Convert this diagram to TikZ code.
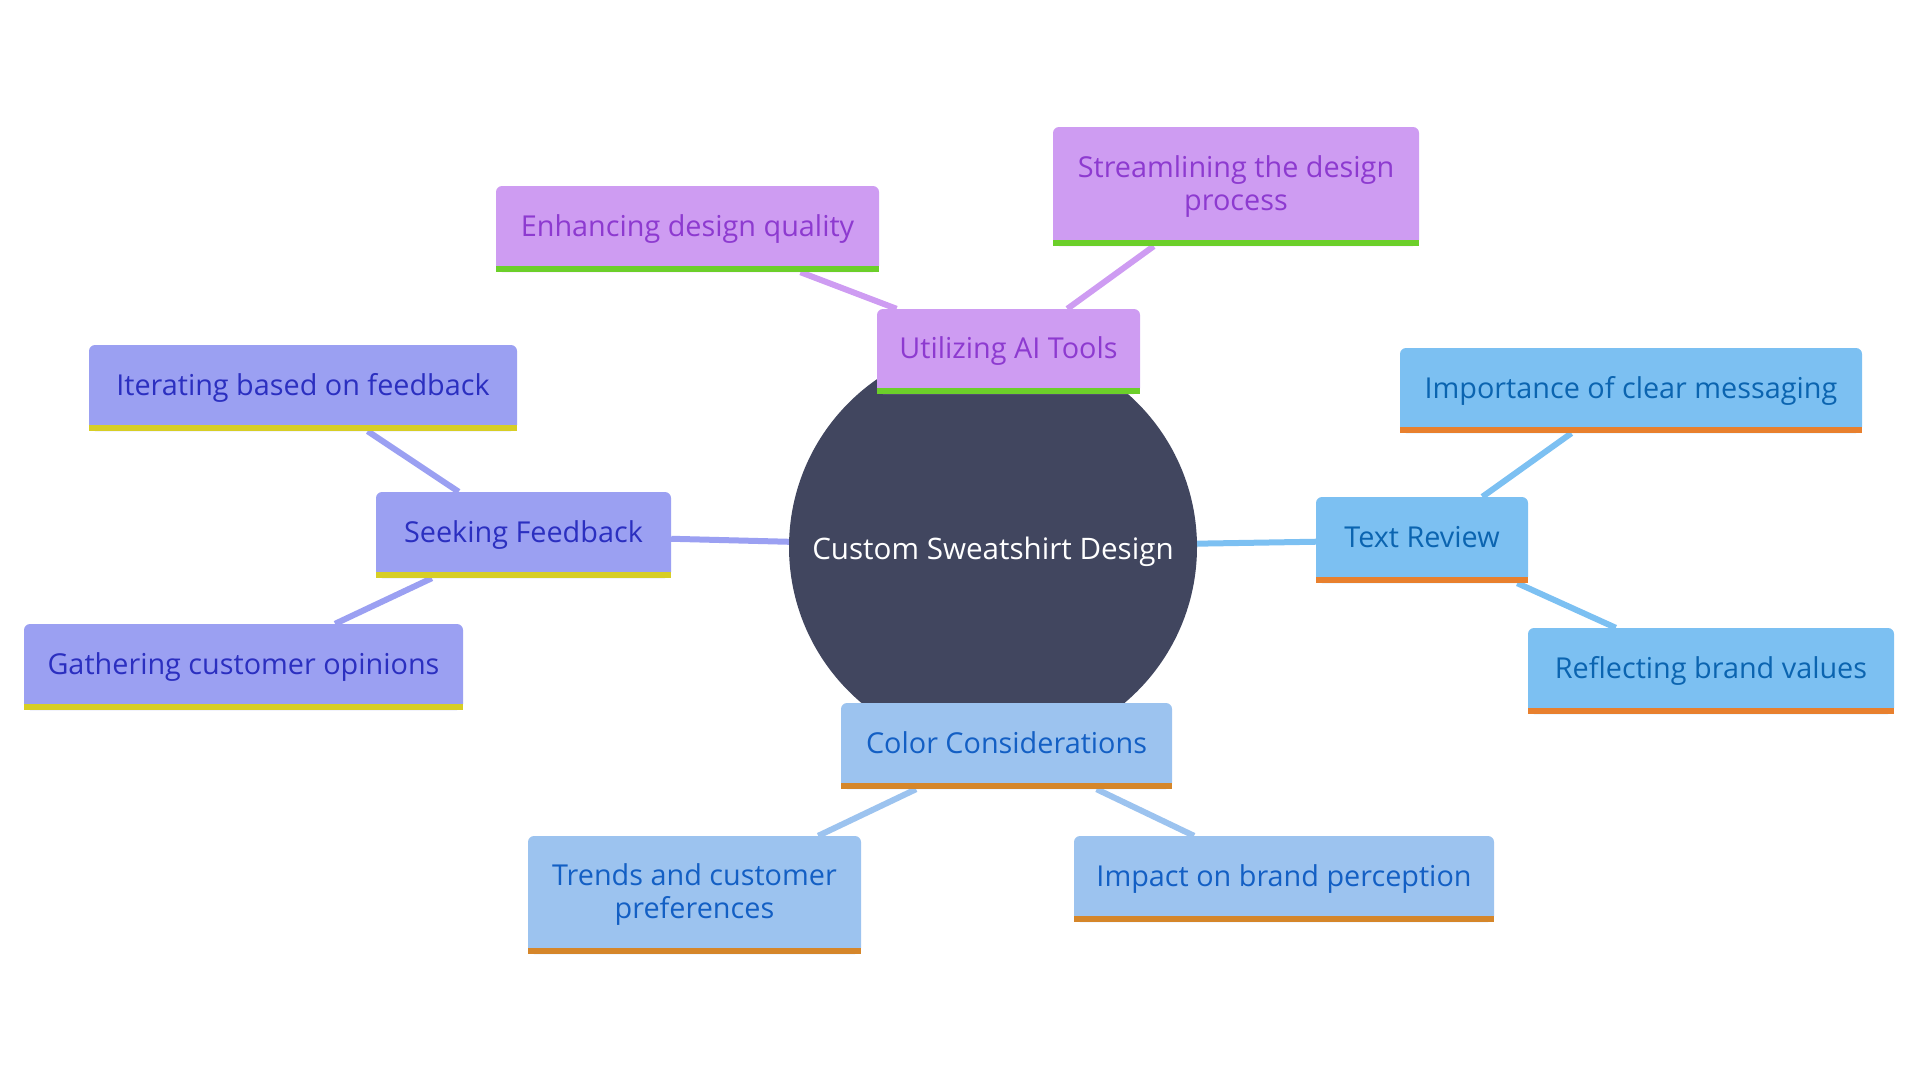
\documentclass[tikz,border=0pt]{standalone}
\usepackage{fontspec}
\setmainfont{Open Sans}
\usetikzlibrary{backgrounds}
\definecolor{hubF}{HTML}{41465F}
\definecolor{aiF}{HTML}{CE9CF2}
\definecolor{aiT}{HTML}{8D3AD0}
\definecolor{aiB}{HTML}{6CCF2A}
\definecolor{fbF}{HTML}{9BA0F2}
\definecolor{fbT}{HTML}{2B2FC0}
\definecolor{fbB}{HTML}{D7CE25}
\definecolor{trF}{HTML}{7CC0F2}
\definecolor{trT}{HTML}{0B64B0}
\definecolor{trB}{HTML}{E8802E}
\definecolor{ccF}{HTML}{9CC3EF}
\definecolor{ccT}{HTML}{135FC4}
\definecolor{ccB}{HTML}{D5862A}
\tikzset{
  box/.style={rounded corners=6pt, align=center, inner sep=0pt,
    font=\fontsize{28.8}{33}\selectfont},
  aibox/.style={box, fill=aiF, text=aiT},
  fbbox/.style={box, fill=fbF, text=fbT},
  trbox/.style={box, fill=trF, text=trT},
  ccbox/.style={box, fill=ccF, text=ccT},
  link/.style={line width=6pt}
}
\begin{document}
\begin{tikzpicture}[x=1pt,y=-1pt]
\useasboundingbox (0,0) rectangle (1920,1080);
\node[circle, fill=hubF, text=white, minimum size=408pt, inner sep=0pt,
  font=\fontsize{29.6}{33}\selectfont] (hub) at (993,547) {\raisebox{-5pt}[\height][\depth]{Custom Sweatshirt Design}};

\node[aibox, minimum width=263pt, minimum height=85pt] (ai) at (1008.5,351.5) {Utilizing AI Tools};
\node[aibox, minimum width=383pt, minimum height=86pt] (enh) at (687.5,229) {Enhancing design quality};
\node[aibox, minimum width=366pt, minimum height=119pt] (str) at (1236,186.5) {Streamlining the design\\process};

\node[fbbox, minimum width=295pt, minimum height=86pt] (fb) at (523.5,535) {Seeking Feedback};
\node[fbbox, minimum width=428pt, minimum height=86pt] (ite) at (303,388) {Iterating based on feedback};
\node[fbbox, minimum width=439pt, minimum height=86pt] (gat) at (243.5,667) {Gathering customer opinions};

\node[trbox, minimum width=212pt, minimum height=86pt] (tr) at (1422,540) {Text Review\vphantom{g}};
\node[trbox, minimum width=462pt, minimum height=85pt] (imp) at (1631,390.5) {Importance of clear messaging};
\node[trbox, minimum width=366pt, minimum height=86pt] (ref) at (1711,671) {Reflecting brand values};

\node[ccbox, minimum width=331pt, minimum height=86pt] (cc) at (1006.5,746) {Color Considerations\vphantom{g}};
\node[ccbox, minimum width=333pt, minimum height=118pt] (trd) at (694.5,895) {Trends and customer\\preferences};
\node[ccbox, minimum width=420pt, minimum height=86pt] (ipb) at (1284,879) {Impact on brand perception};

\foreach \n/\c in {ai/aiB, enh/aiB, str/aiB, fb/fbB, ite/fbB, gat/fbB,
                   tr/trB, imp/trB, ref/trB, cc/ccB, trd/ccB, ipb/ccB}
  \fill[\c] (\n.south west) rectangle ([yshift=6pt]\n.south east);

\begin{scope}[on background layer]
  \draw[link, aiF] (ai) -- (enh);
  \draw[link, aiF] (ai) -- (str);
  \draw[link, fbF] (hub) -- (fb);
  \draw[link, fbF] (fb) -- (ite);
  \draw[link, fbF] (fb) -- (gat);
  \draw[link, trF] (hub) -- (tr);
  \draw[link, trF] (tr) -- (imp);
  \draw[link, trF] (tr) -- (ref);
  \draw[link, ccF] (cc) -- (trd);
  \draw[link, ccF] (cc) -- (ipb);
\end{scope}
\end{tikzpicture}
\end{document}
